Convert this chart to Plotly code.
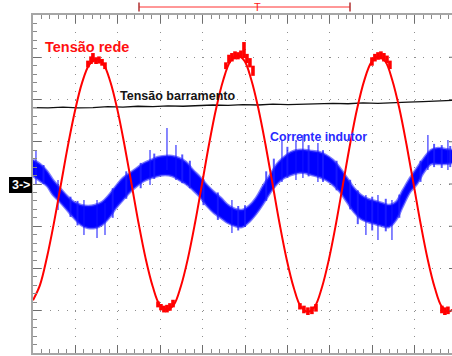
import plotly.graph_objects as go

# ---------------- data (time in ms, 5 ms/div; amplitude in screen divisions) -------------
red_t = [0.0, 0.81, 1.64, 2.47, 3.30, 4.13, 4.96, 5.79, 6.63, 7.46, 8.29, 9.12, 9.95, 10.78,
         11.62, 12.45, 13.28, 14.11, 14.94, 15.77, 16.60, 17.44, 18.27, 19.10, 19.93, 20.76,
         21.59, 22.42, 23.26, 24.09, 24.92, 25.75, 26.58, 27.41, 28.25, 29.08, 29.91, 30.74,
         31.57, 32.40, 33.23, 34.07, 34.90, 35.73, 36.56, 37.39, 38.22, 39.05, 39.89, 40.72,
         41.55, 42.38, 43.21, 44.04, 44.88, 45.71, 46.54, 47.37, 48.20, 49.03, 49.86]
red_v = [-2.75, -2.40, -1.74, -0.92, 0.0, 0.92, 1.74, 2.40, 2.82, 2.95, 2.84, 2.42, 1.76, 0.93,
         0.0, -0.93, -1.76, -2.42, -2.86, -2.97, -2.86, -2.42, -1.76, -0.93, 0.0, 0.94,
         1.78, 2.45, 2.90, 3.04, 2.92, 2.46, 1.78, 0.94, 0.0, -0.94, -1.78, -2.45,
         -2.90, -3.02, -2.90, -2.45, -1.78, -0.94, 0.0, 0.94, 1.78, 2.44, 2.88, 3.02,
         2.90, 2.45, 1.78, 0.94, 0.0, -0.94, -1.78, -2.45, -2.90, -3.02, -2.90]

# noise bursts on the mains voltage near its peaks / troughs
red_noise_t = [6.48, 6.84, 7.07, 7.43, 7.78, 8.14, 8.49,
               22.75, 23.11, 23.46, 23.82, 24.17, 24.52, 24.88, 25.23, 25.58, 25.94,
               39.97, 40.32, 40.68, 41.03, 41.38, 41.74, 42.09,
               14.74, 15.09, 15.44, 15.80, 16.15, 16.51,
               31.48, 31.95, 32.42, 32.89, 33.37,
               48.22, 48.57, 48.93]
red_noise_hi = [2.92, 3.02, 3.10, 3.00, 3.02, 2.96, 2.88,
                2.88, 3.06, 3.10, 3.14, 3.12, 3.16, 3.36, 3.08, 2.98, 2.80,
                3.00, 3.08, 3.12, 3.14, 3.10, 3.04, 2.92,
                -2.78, -2.84, -2.88, -2.86, -2.82, -2.74,
                -2.82, -2.88, -2.92, -2.90, -2.84,
                -2.88, -2.92, -2.90]
red_noise_lo = [2.76, 2.84, 2.88, 2.84, 2.85, 2.80, 2.72,
                2.72, 2.86, 2.90, 2.95, 2.95, 2.98, 2.98, 2.86, 2.76, 2.56,
                2.80, 2.90, 2.94, 2.95, 2.90, 2.86, 2.72,
                -2.92, -2.99, -3.04, -3.04, -3.00, -2.92,
                -2.97, -3.06, -3.10, -3.08, -3.02,
                -3.06, -3.10, -3.08]

bus_t = [0, 1.77, 3.54, 5.31, 7.07, 8.84, 10.61, 12.38, 14.15, 15.92, 17.69, 19.46, 21.23,
         23.00, 24.76, 26.53, 28.30, 30.07, 31.84, 33.61, 35.38, 37.15, 38.92, 40.68, 42.45,
         44.22, 45.99, 47.76, 49.41]
bus_v = [1.81, 1.80, 1.82, 1.80, 1.81, 1.83, 1.82, 1.84, 1.83, 1.85, 1.84, 1.86, 1.87,
         1.86, 1.88, 1.87, 1.89, 1.88, 1.89, 1.90, 1.91, 1.90, 1.92, 1.91, 1.93,
         1.94, 1.95, 1.96, 1.98]

cur_t = [0.0, 0.83, 1.65, 2.36, 3.18, 4.01, 4.83, 5.66, 6.49, 7.31, 8.14, 8.96, 9.79, 10.61,
         11.44, 12.26, 13.09, 13.92, 14.74, 15.57, 16.39, 17.22, 18.04, 18.87, 19.69, 20.52,
         21.34, 22.17, 22.99, 23.82, 24.65, 25.47, 26.30, 27.12, 27.95, 28.77, 29.60, 30.42,
         31.25, 32.07, 32.90, 33.73, 34.55, 35.38, 36.20, 37.03, 37.85, 38.68, 39.50, 40.33,
         41.15, 41.98, 42.81, 43.63, 44.46, 45.28, 46.11, 46.93, 47.76, 48.58, 49.41]
cur_hi = [0.568, 0.473, 0.308, 0.095, -0.095, -0.284, -0.426, -0.497, -0.521, -0.497,
          -0.426, -0.260, -0.047, 0.142, 0.260, 0.379, 0.497, 0.568, 0.639, 0.663,
          0.663, 0.615, 0.521, 0.331, 0.166, -0.024, -0.189, -0.331, -0.497, -0.592,
          -0.615, -0.521, -0.331, -0.047, 0.213, 0.473, 0.639, 0.757, 0.805, 0.805,
          0.781, 0.757, 0.686, 0.568, 0.379, 0.142, -0.095, -0.260, -0.355, -0.402,
          -0.450, -0.497, -0.426, -0.142, 0.142, 0.379, 0.615, 0.805, 0.852, 0.828, 0.805]
cur_lo = [0.189, 0.071, -0.047, -0.260, -0.426, -0.615, -0.805, -0.970, -1.041, -1.041,
          -0.970, -0.805, -0.568, -0.379, -0.189, -0.047, 0.071, 0.142, 0.189, 0.213,
          0.189, 0.095, 0.0, -0.142, -0.308, -0.521, -0.686, -0.805, -0.923, -0.994,
          -1.018, -0.899, -0.710, -0.473, -0.213, 0.0, 0.142, 0.213, 0.260, 0.260,
          0.213, 0.166, 0.095, -0.024, -0.189, -0.426, -0.663, -0.828, -0.899, -0.947,
          -0.994, -1.018, -0.852, -0.521, -0.189, 0.0, 0.284, 0.473, 0.473, 0.473, 0.497]

# large isolated spikes on the current
cur_spike_t = [0.35, 2.95, 6.01, 7.55, 8.49, 13.80, 15.80, 16.86, 23.46, 29.36, 31.01,
               31.83, 33.60, 39.26, 40.68, 42.33, 46.57, 48.93]
cur_spike_hi = [0.805, 0.095, -0.379, -0.379, -0.450, 0.805, 1.325, 0.923, -0.379, 1.041,
                1.041, 1.160, 0.970, -0.260, -0.260, -0.379, 1.160, 1.041]
cur_spike_lo = [-0.024, -0.615, -1.207, -1.278, -1.207, -0.024, 0.331, 0.095, -1.160, 0.047,
                0.095, 0.142, 0.047, -1.207, -1.325, -1.325, 0.331, 0.331]

# smaller ripple excursions that roughen the edges of the current band
cur_rip_t = [1.24, 4.42, 5.25, 9.40, 11.00, 12.70, 14.30, 17.60, 18.50, 20.10, 21.80, 24.20,
             25.00, 27.50, 28.40, 30.00, 32.50, 34.20, 35.80, 37.40, 38.30, 40.00, 41.60,
             43.20, 45.70, 47.30, 48.20, 49.20]
cur_rip_hi = [0.45, -0.30, -0.40, -0.10, 0.30, 0.50, 0.72, 0.70, 0.55, 0.12, -0.20, -0.52,
              -0.50, 0.30, 0.60, 0.88, 0.92, 0.80, 0.55, 0.10, -0.15, -0.30, -0.35,
              -0.25, 0.55, 0.95, 0.92, 0.90]
cur_rip_lo = [0.00, -0.78, -0.98, -0.80, -0.35, -0.10, 0.12, 0.02, -0.10, -0.50, -0.85, -1.10,
              -1.02, -0.40, -0.10, 0.15, 0.18, 0.05, -0.15, -0.60, -0.95, -1.10, -1.12,
              -0.80, 0.05, 0.40, 0.38, 0.40]

labels = ["Tensão rede", "Tensão barramento", "Corrente indutor"]

# ---------------- geometry helpers (layout only) ----------------
W, H = 452, 356
ML, MT, MB = 33, 15, 3
PW, PH = W - ML, H - MT - MB


def px(xp):
    return (xp - ML) / PW


def py(yp):
    return (H - MB - yp) / PH


def segs(ts, his, los):
    xs, ys = [], []
    for t, a, b in zip(ts, his, los):
        xs += [t, t, None]
        ys += [a, b, None]
    return xs, ys


fig = go.Figure()

# DC bus voltage (black)
fig.add_trace(go.Scatter(x=bus_t, y=bus_v, mode="lines",
                         line=dict(color="#101010", width=1.3), hoverinfo="skip"))

# inductor current (blue noisy band)
fig.add_trace(go.Scatter(x=cur_t, y=cur_lo, mode="lines", line=dict(color="rgba(40,40,255,0.6)", width=2.5),
                         line_shape="spline", hoverinfo="skip"))
fig.add_trace(go.Scatter(x=cur_t, y=cur_hi, mode="lines", line=dict(color="rgba(40,40,255,0.6)", width=2.5),
                         line_shape="spline", fill="tonexty", fillcolor="#0000ff", hoverinfo="skip"))
qx, qy = segs(cur_rip_t, cur_rip_hi, cur_rip_lo)
fig.add_trace(go.Scatter(x=qx, y=qy, mode="lines", line=dict(color="rgba(30,30,255,0.75)", width=2),
                         hoverinfo="skip"))
sx, sy = segs(cur_spike_t, cur_spike_hi, cur_spike_lo)
fig.add_trace(go.Scatter(x=sx, y=sy, mode="lines", line=dict(color="rgba(20,20,255,0.85)", width=1.2),
                         hoverinfo="skip"))

# mains voltage (red)
fig.add_trace(go.Scatter(x=red_t, y=red_v, mode="lines", line=dict(color="#ff0000", width=2),
                         line_shape="spline", hoverinfo="skip"))
rx, ry = segs(red_noise_t, red_noise_hi, red_noise_lo)
fig.add_trace(go.Scatter(x=rx, y=ry, mode="lines", line=dict(color="#ff0000", width=3.6),
                         hoverinfo="skip"))

FONT = "Liberation Sans, Arial, sans-serif"
ann = [
    dict(x=px(44), y=py(47), text="<b>%s</b>" % labels[0], font=dict(color="#ff1010", size=14.5, family=FONT)),
    dict(x=px(119), y=py(96), text="<b>%s</b>" % labels[1], font=dict(color="#151515", size=12.5, family=FONT)),
    dict(x=px(269), y=py(137), text="<b>%s</b>" % labels[2], font=dict(color="#2a2aff", size=12.3, family=FONT)),
]
annotations = [dict(a, xref="paper", yref="paper", xanchor="left", yanchor="middle",
                    showarrow=False, borderpad=0) for a in ann]
annotations.append(dict(x=px(20.5), y=py(185), xref="paper", yref="paper", text="<b>3-></b>",
                        showarrow=False, font=dict(color="white", size=12.5, family=FONT),
                        xanchor="center", yanchor="middle"))
annotations.append(dict(x=px(257), y=py(7), xref="paper", yref="paper", text="T",
                        showarrow=False, font=dict(color="#ff2020", size=11, family=FONT),
                        xanchor="center", yanchor="middle", bgcolor="rgba(0,0,0,0)"))

shapes = [
    dict(type="rect", xref="paper", yref="paper", x0=px(9), x1=px(32), y0=py(193), y1=py(177),
         fillcolor="black", line=dict(width=0), layer="above"),
    dict(type="line", xref="paper", yref="paper", x0=px(139), x1=px(350), y0=py(7), y1=py(7),
         line=dict(color="#ff3030", width=1)),
    dict(type="line", xref="paper", yref="paper", x0=px(139), x1=px(139), y0=py(2.5), y1=py(11.5),
         line=dict(color="#b03030", width=1.5)),
    dict(type="line", xref="paper", yref="paper", x0=px(350), x1=px(350), y0=py(2.5), y1=py(11.5),
         line=dict(color="#b03030", width=1.5)),
]
# right-hand border ticks (the border itself lies just outside the window)
for v in range(-3, 4):
    shapes.append(dict(type="line", xref="x", yref="y", x0=50 - 8 / 42.4 * 5, x1=50, y0=v, y1=v,
                       line=dict(color="#6e6e6e", width=1)))

fig.update_layout(
    width=W, height=H, autosize=False,
    margin=dict(l=ML, r=0, t=MT, b=MB, pad=0),
    paper_bgcolor="white", plot_bgcolor="white",
    showlegend=False,
    annotations=annotations, shapes=shapes,
    xaxis=dict(range=[0, PW / 42.4 * 5], tick0=0, dtick=5, showgrid=True, gridcolor="#8e8e8e",
               gridwidth=1, griddash="1px,7.45px", zeroline=False, showline=True,
               linecolor="#a6a6a6", linewidth=2, mirror="allticks", ticks="inside", ticklen=8,
               tickwidth=1, tickcolor="#6e6e6e", showticklabels=False, fixedrange=True,
               minor=dict(dtick=1, ticks="inside", ticklen=4, tickwidth=1, tickcolor="#8a8a8a",
                          showgrid=False)),
    yaxis=dict(range=[-4, 4], tick0=0, dtick=1, showgrid=True, gridcolor="#8e8e8e",
               gridwidth=1, griddash="1px,7.48px", zeroline=False, showline=True,
               linecolor="#a6a6a6", linewidth=2, mirror=False, ticks="inside", ticklen=8,
               tickwidth=1, tickcolor="#6e6e6e", showticklabels=False, fixedrange=True,
               minor=dict(dtick=0.2, ticks="inside", ticklen=4, tickwidth=1, tickcolor="#8a8a8a",
                          showgrid=False)),
)

fig.write_html("out.html", config=dict(displayModeBar=False))
